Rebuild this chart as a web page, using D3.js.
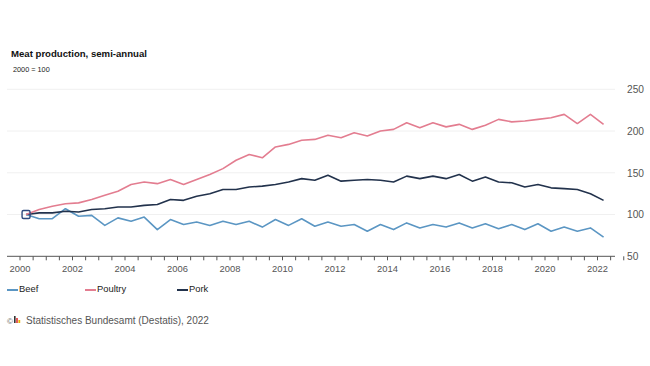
<!DOCTYPE html>
<html>
<head>
<meta charset="utf-8">
<script src="https://cdn.jsdelivr.net/npm/d3@7"></script>
<style>
  html, body { margin: 0; padding: 0; background: #fff; }
  svg { display: block; font-family: "Liberation Sans", Arial, sans-serif; }
</style>
</head>
<body>
<svg id="chart" width="650" height="366"></svg>
<script>
// ---- Data (index 2000 = 100), semi-annual from 2000 H1 to 2022 H1 ----
const periods = d3.range(45).map(i => 2000.25 + 0.5 * i);
const beef = [100,95,95,107,98,99,87,96,92,97,82,94,88,91,87,92,88,92,85,94,87,95,86,91,86,88,80,88,82,90,84,88,85,90,84,89,83,88,82,89,80,85,80,84,73];
const poultry = [100,106,110,113,114,118,123,128,136,139,137,142,136,142,148,155,165,172,168,181,184,189,190,195,192,198,194,200,202,210,204,210,205,208,202,207,214,211,212,214,216,220,209,220,208];
const pork = [100,102,102,104,103,106,107,109,109,111,112,118,117,122,125,130,130,133,134,136,139,143,141,147,140,141,142,141,139,146,143,146,143,148,140,145,139,138,133,136,132,131,130,125,117];
const seriesNames = ["Beef", "Poultry", "Pork"];
const yTicks = [50, 100, 150, 200, 250];
const xLabelYears = [2000, 2002, 2004, 2006, 2008, 2010, 2012, 2014, 2016, 2018, 2020, 2022];
const xTickValues = d3.range(47).map(i => 2000 + 0.5 * i);

const colors = { Beef: "#5b96c3", Poultry: "#e37d90", Pork: "#22324c" };
const seriesData = { Beef: beef, Poultry: poultry, Pork: pork };

const svg = d3.select("#chart");
const x = d3.scaleLinear().domain([2000, 2022]).range([19.5, 597]);
const y = d3.scaleLinear().domain([50, 250]).range([256.3, 89.3]);
const plotLeft = 7, plotRight = 615;

// Title
svg.append("text").attr("x", 11).attr("y", 57)
  .attr("font-size", 9.6).attr("font-weight", "bold").attr("fill", "#111")
  .text("Meat production, semi-annual");
svg.append("text").attr("x", 13).attr("y", 71.5)
  .attr("font-size", 7.3).attr("fill", "#222")
  .text("2000 = 100");

// Gridlines
svg.append("g").selectAll("line").data(yTicks.filter(d => d > 50)).join("line")
  .attr("x1", plotLeft).attr("x2", plotRight)
  .attr("y1", d => y(d)).attr("y2", d => y(d))
  .attr("stroke", "#f0f0f0").attr("stroke-width", 1);

// Y axis labels (right)
const yAxis = svg.append("g").attr("transform", "translate(627,0)")
  .call(d3.axisRight(y).tickValues(yTicks).tickSize(0).tickPadding(0));
yAxis.select(".domain").remove();
yAxis.selectAll("text").attr("font-size", 10.2).attr("fill", "#555")
  .attr("font-family", "'Liberation Sans', Arial, sans-serif");

// X axis
const xAxis = svg.append("g").attr("transform", `translate(0,${y(50)})`)
  .call(d3.axisBottom(x).tickValues(xTickValues).tickSize(4).tickPadding(5.5)
    .tickFormat(d => xLabelYears.includes(d) ? String(d) : ""));
xAxis.select(".domain").remove();
xAxis.append("line").attr("x1", plotLeft).attr("x2", plotRight)
  .attr("y1", 0).attr("y2", 0).attr("stroke", "#555").attr("stroke-width", 1);
xAxis.selectAll(".tick line").attr("stroke", "#555");
xAxis.selectAll("text").attr("font-size", 9.4).attr("fill", "#555")
  .attr("font-family", "'Liberation Sans', Arial, sans-serif");

// Lines
const line = d3.line().x((d, i) => x(periods[i])).y(d => y(d));
["Beef", "Pork", "Poultry"].forEach(name => {
  svg.append("path").datum(seriesData[name])
    .attr("d", line).attr("fill", "none")
    .attr("stroke", colors[name]).attr("stroke-width", 1.6)
    .attr("stroke-linejoin", "round");
});

// Base marker
svg.append("rect")
  .attr("x", x(periods[0]) - 4).attr("y", y(100) - 4)
  .attr("width", 8).attr("height", 8).attr("rx", 1.5)
  .attr("fill", "none").attr("stroke", "#2f4a7e").attr("stroke-width", 1.4);

// Legend
const legendX = [7, 85, 177];
seriesNames.forEach((name, i) => {
  const g = svg.append("g").attr("transform", `translate(${legendX[i]},0)`);
  g.append("line").attr("x1", 0).attr("x2", 11).attr("y1", 290).attr("y2", 290)
    .attr("stroke", colors[name]).attr("stroke-width", 2);
  g.append("text").attr("x", 12).attr("y", 292).attr("font-size", 9.4)
    .attr("fill", "#222").text(name);
});

// Footer
svg.append("text").attr("x", 7).attr("y", 323.5).attr("font-size", 8)
  .attr("fill", "#666").text("©");
const logo = svg.append("g").attr("transform", "translate(14,316)");
logo.append("rect").attr("x", 0).attr("y", 0).attr("width", 1.6).attr("height", 7).attr("fill", "#333");
logo.append("rect").attr("x", 2.2).attr("y", 2).attr("width", 1.6).attr("height", 5).attr("fill", "#d33");
logo.append("rect").attr("x", 4.4).attr("y", 4).attr("width", 1.8).attr("height", 3).attr("fill", "#e8b400");
svg.append("text").attr("x", 26).attr("y", 324).attr("font-size", 10)
  .attr("fill", "#555").text("Statistisches Bundesamt (Destatis), 2022");
</script>
</body>
</html>
